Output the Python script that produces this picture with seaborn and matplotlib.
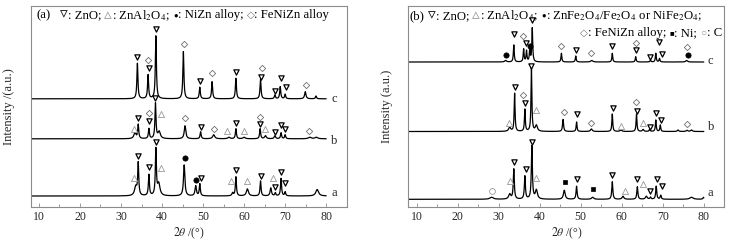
import numpy as np
import pandas as pd
import matplotlib
matplotlib.use('Agg')
import matplotlib.pyplot as plt
import matplotlib.transforms as mtransforms
from matplotlib.ticker import MultipleLocator
import seaborn as sns

# ---- data (2theta in degrees, intensity in a.u.) ----
TWO_THETA = np.arange(8.2, 80.01, 0.02)

# panel (a): baselines of traces a, b, c
A_BASE = [10.7, 67.9, 107.9]
A_A_POS = [33.6, 34.2, 36.8, 38.5, 39.2, 45.4, 48.2, 49.2, 57.2, 58.0, 60.8, 64.0, 66.5, 67.6, 69.0, 70.0, 77.8]
A_A_HGT = [9, 32, 21, 46, 12, 31, 10, 12, 3, 19, 7, 15, 8, 3, 17.5, 4, 6.5]
A_A_WID = [0.7, 0.3, 0.3, 0.3, 0.7, 0.4, 0.4, 0.3, 0.4, 0.3, 0.6, 0.3, 0.4, 0.3, 0.3, 0.3, 0.8]
A_B_POS = [33.4, 34.2, 36.8, 38.4, 39.3, 45.6, 49.4, 52.6, 56.3, 58.0, 60.0, 63.9, 65.2, 67.5, 69.0, 70.0, 76.0, 77.6]
A_B_HGT = [6, 14, 10, 35, 7, 13, 7, 4, 1.5, 10, 1.5, 10, 3, 3, 6, 4, 1.5, 1.5]
A_B_WID = [0.6, 0.3, 0.3, 0.3, 0.7, 0.45, 0.3, 0.6, 0.6, 0.3, 0.6, 0.3, 0.5, 0.4, 0.3, 0.3, 0.8, 0.8]
A_C_POS = [34.0, 36.6, 38.5, 45.2, 49.2, 52.2, 58.0, 64.0, 67.5, 68.8, 70.0, 74.9, 77.5]
A_C_HGT = [35.5, 23.8, 62.8, 47.1, 11.5, 17.1, 20.5, 19.5, 3.8, 12.1, 4.5, 7.1, 2.8]
A_C_WID = [0.3, 0.3, 0.3, 0.3, 0.3, 0.3, 0.3, 0.3, 0.3, 0.3, 0.3, 0.4, 0.3]

# panel (b)
B_BASE = [7.4, 75.2, 144.7]
B_A_POS = [28.3, 32.7, 33.7, 36.4, 38.1, 39.2, 46.0, 49.0, 52.9, 57.7, 60.3, 63.8, 66.0, 67.0, 68.4, 69.5, 77.0, 79.9]
B_A_HGT = [2, 5, 30, 23, 53, 9, 9, 13, 2, 17.5, 3, 12.5, 3, 2, 13, 4, 2, 2]
B_A_WID = [1.0, 0.6, 0.3, 0.3, 0.3, 0.6, 0.5, 0.3, 0.6, 0.3, 0.5, 0.3, 0.5, 0.3, 0.3, 0.3, 1.0, 0.3]
B_B_POS = [32.7, 33.9, 36.4, 38.0, 39.2, 45.7, 49.0, 52.6, 57.7, 59.8, 63.6, 65.2, 66.8, 68.3, 69.4, 73.7, 75.9, 77.0]
B_B_HGT = [4, 38, 22, 63.5, 6, 12, 9.5, 2.5, 17.5, 1.5, 17.5, 2, 2, 11.5, 6.5, 1.5, 1.2, 1.5]
B_B_WID = [0.6, 0.25, 0.25, 0.25, 0.6, 0.3, 0.25, 0.5, 0.25, 0.5, 0.25, 0.4, 0.3, 0.25, 0.25, 0.4, 0.4, 0.5]
B_C_POS = [31.7, 33.7, 36.1, 36.8, 37.6, 38.2, 45.3, 48.8, 52.7, 57.7, 63.4, 67.0, 68.3, 69.2, 75.8]
B_C_HGT = [1.5, 17, 12.7, 11, 13, 33.7, 8.7, 6, 1.5, 8.7, 5.3, 1.5, 8.7, 3.5, 1.5]
B_C_WID = [0.5, 0.25, 0.25, 0.25, 0.25, 0.25, 0.25, 0.25, 0.6, 0.25, 0.25, 0.3, 0.25, 0.25, 0.5]

# phase markers (x, y)
A_ZNO_X = [34.0, 36.8, 38.6, 49.2, 58.0, 64.2, 67.6, 69.0, 70.2,
           34.2, 36.8, 38.4, 49.4, 58.0, 63.9, 67.5, 69.0, 70.0,
           34.2, 36.8, 38.5, 49.6, 58.0, 64.1, 67.6, 69.0, 70.0]
A_ZNO_Y = [150, 138.4, 177.4, 126, 135, 130, 116, 129, 120,
           89, 85.7, 108.4, 79.4, 83.4, 82.7, 74.4, 81.7, 77.7,
           50.7, 39.4, 64.4, 29, 36.4, 31, 20, 34.7, 24]
A_SPINEL_X = [33.1, 39.8, 55.9, 60.0, 65.1, 33.1, 39.8, 56.9, 60.8, 67.1]
A_SPINEL_Y = [77.7, 92.7, 75.7, 75.7, 77.4, 28.4, 38.4, 25.7, 25.7, 28.7]
A_NIZN_X = [45.6, 48.2]
A_NIZN_Y = [48.4, 26.4]
A_FENIZN_X = [36.6, 45.3, 52.2, 64.3, 75.1, 36.8, 45.6, 52.7, 63.9, 75.9]
A_FENIZN_Y = [146.7, 162.4, 134, 139, 121.7, 93.4, 89, 77.7, 90, 75.7]

B_ZNO_X = [33.7, 36.6, 38.1, 48.8, 57.7, 63.4, 67.0, 69.0, 69.7,
           34.0, 36.4, 38.0, 49.0, 57.8, 63.6, 66.8, 68.3, 69.5,
           33.7, 36.6, 38.2, 49.0, 57.6, 63.8, 67.0, 68.6, 69.7]
B_ZNO_Y = [172.4, 163.4, 186.7, 156.7, 160.7, 156.7, 150, 164.4, 152.4,
           120, 103.4, 140.5, 92.7, 98.4, 96, 79.4, 93.4, 86.7,
           45, 38, 64.4, 27.4, 32, 27.4, 16, 27.4, 20.7]
B_SPINEL_X = [32.6, 39.2, 59.8, 65.1, 32.7, 39.2, 60.8, 65.2]
B_SPINEL_Y = [84, 96.7, 80.7, 83.4, 25.7, 28.4, 16, 22.7]
B_FERRITE_X = [31.7, 37.7, 76.2]
B_FERRITE_Y = [151.7, 161, 151.7]
B_FENIZN_X = [36.0, 45.2, 52.5, 63.4, 75.8, 36.0, 46.0, 52.6, 63.4, 75.9]
B_FENIZN_Y = [171, 161, 154, 164, 160, 111.7, 95, 83.4, 105, 82.7]
B_NI_X = [46.2, 52.9]
B_NI_Y = [24.4, 17.4]
B_C_X = [28.3]
B_C_Y = [15.7]

TRACE_NAMES = ['a', 'b', 'c']
A_LABEL_Y = [14, 66, 107.7]
B_LABEL_Y = [14, 80, 145.7]

GRAY = '#9a9a9a'
DGRAY = '#707070'
FRAME = '#8c8c8c'
FAM = ['Liberation Serif', 'DejaVu Sans']
LEG_SIZE = 9.2


def profile(base, pos, hgt, wid):
    y = np.full_like(TWO_THETA, base)
    for p, h, w in zip(pos, hgt, wid):
        y += h / (1 + ((TWO_THETA - p) / (w / 2)) ** 2)
    return y


def put_line(ax, x, y, pieces, align='left', size=LEG_SIZE):
    fig = ax.figure
    r = fig.canvas.get_renderer()
    gap = size * fig.dpi / 72 * 0.25
    texts, widths = [], []
    for piece in pieces:
        s, col = piece[0], piece[1]
        fs = size * piece[2] if len(piece) > 2 else size
        t = ax.text(x, y, s, color=col, fontsize=fs, va='center', ha='left',
                    transform=ax.transAxes, family=FAM)
        texts.append(t)
        w = t.get_window_extent(r).width
        if s.endswith(';') or s.endswith(')'):
            w += gap
        widths.append(w)
    off = -sum(widths) if align == 'right' else 0
    for t, w in zip(texts, widths):
        t.set_transform(mtransforms.offset_copy(ax.transAxes, fig=fig, x=off, y=0, units='dots'))
        off += w


def marks(ax, xs, ys, marker, size, face, edge, lw):
    sns.scatterplot(x=xs, y=ys, marker=marker, s=size ** 2, color=face,
                    edgecolor=edge, linewidth=lw, ax=ax, zorder=4, legend=False)


sns.set_theme(style='white')
plt.rcParams['font.family'] = FAM
plt.rcParams['mathtext.fontset'] = 'stix'

fig = plt.figure(figsize=(7.29, 2.41), dpi=100)
ax1 = fig.add_axes([0.0421, 0.1423, 0.4335, 0.8328])
ax2 = fig.add_axes([0.5601, 0.1423, 0.4335, 0.8328])

panels = [
    (ax1, A_BASE, [(A_A_POS, A_A_HGT, A_A_WID), (A_B_POS, A_B_HGT, A_B_WID), (A_C_POS, A_C_HGT, A_C_WID)], A_LABEL_Y, 81.2),
    (ax2, B_BASE, [(B_A_POS, B_A_HGT, B_A_WID), (B_B_POS, B_B_HGT, B_B_WID), (B_C_POS, B_C_HGT, B_C_WID)], B_LABEL_Y, 81.0),
]
for ax, bases, traces, label_y, label_x in panels:
    for name, base, (pos, hgt, wid), ly in zip(TRACE_NAMES, bases, traces, label_y):
        df = pd.DataFrame({'tt': TWO_THETA, 'I': profile(base, pos, hgt, wid)})
        sns.lineplot(data=df, x='tt', y='I', ax=ax, color='black', lw=0.9,
                     estimator=None, sort=False)
        ax.text(label_x, ly, name, fontsize=9, va='center', ha='left')
    ax.set_xlim(8, 85)
    ax.set_ylim(0, 200.7)
    ax.set_yticks([])
    ax.xaxis.set_major_locator(MultipleLocator(10))
    ax.xaxis.set_minor_locator(MultipleLocator(5))
    ax.tick_params(axis='x', which='both', direction='in', color=FRAME, width=0.6,
                   labelsize=8.5, pad=3, bottom=True, top=False)
    ax.tick_params(axis='x', which='major', length=3)
    ax.tick_params(axis='x', which='minor', length=2)
    for sp in ax.spines.values():
        sp.set_color(FRAME)
        sp.set_linewidth(0.8)
    ax.set_xlabel(r'$\mathit{2\theta}$ /(°)', fontsize=8.5)
    ax.xaxis.set_label_coords(0.5, -0.093)

ax1.set_ylabel('Intensity /(a.u.)', fontsize=9)
ax1.yaxis.set_label_coords(-0.051, 0.5)
ax2.set_ylabel('Intensity (a.u.)', fontsize=9)
ax2.yaxis.set_label_coords(-0.047, 0.5)

# markers panel (a)
marks(ax1, A_ZNO_X, A_ZNO_Y, 'v', 3.8, 'white', 'black', 0.9)
marks(ax1, A_SPINEL_X, A_SPINEL_Y, '^', 4.4, 'white', GRAY, 0.6)
marks(ax1, A_NIZN_X, A_NIZN_Y, 'o', 3.8, 'black', 'black', 0.5)
marks(ax1, A_FENIZN_X, A_FENIZN_Y, 'D', 3.2, 'white', DGRAY, 0.6)
# markers panel (b)
marks(ax2, B_ZNO_X, B_ZNO_Y, 'v', 3.8, 'white', 'black', 0.9)
marks(ax2, B_SPINEL_X, B_SPINEL_Y, '^', 4.4, 'white', GRAY, 0.6)
marks(ax2, B_FERRITE_X, B_FERRITE_Y, 'o', 3.8, 'black', 'black', 0.5)
marks(ax2, B_FENIZN_X, B_FENIZN_Y, 'D', 3.2, 'white', DGRAY, 0.6)
marks(ax2, B_NI_X, B_NI_Y, 's', 3.4, 'black', 'black', 0.5)
marks(ax2, B_C_X, B_C_Y, 'o', 4.2, 'white', GRAY, 0.6)

# legends written in the panels
put_line(ax1, 0.017, 0.954, [
    ('(a)', 'black'), ('  ', 'black'),
    ('▿', 'black', 1.2), (': ZnO;', 'black'),
    ('▵', GRAY, 1.2), (': ZnAl$_2$O$_4$;', 'black'),
    ('●', 'black', 0.6), (': NiZn alloy;', 'black'),
    ('◇', DGRAY, 0.8), (': FeNiZn alloy', 'black'),
])
put_line(ax2, 0.005, 0.950, [
    ('(b)', 'black'),
    ('▿', 'black', 1.2), (': ZnO;', 'black'),
    ('▵', GRAY, 1.2), (': ZnAl$_2$O$_4$;', 'black'),
    ('●', 'black', 0.6), (': ZnFe$_2$O$_4$/Fe$_2$O$_4$ or NiFe$_2$O$_4$;', 'black'),
])
put_line(ax2, 0.992, 0.864, [
    ('◇', DGRAY, 0.8), (': FeNiZn alloy;', 'black'),
    ('■', 'black', 0.6), (': Ni;', 'black'),
    ('○', GRAY, 0.8), (': C', 'black'),
], align='right')

fig.savefig('out.png', dpi=100)
